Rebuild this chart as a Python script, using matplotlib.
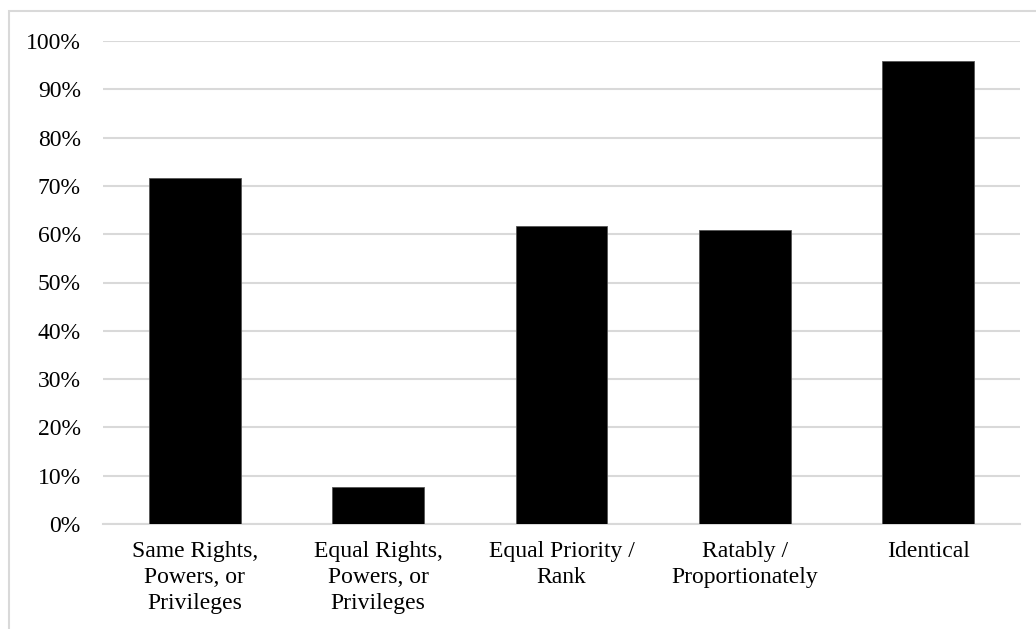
import matplotlib
matplotlib.use("Agg")
import matplotlib.pyplot as plt
from matplotlib.patches import Rectangle
from matplotlib.ticker import PercentFormatter

categories = ["Same Rights,\nPowers, or\nPrivileges",
              "Equal Rights,\nPowers, or\nPrivileges",
              "Equal Priority /\nRank",
              "Ratably /\nProportionately",
              "Identical"]
shares = [0.717, 0.076, 0.617, 0.608, 0.958]
yticks = [i / 10 for i in range(11)]

plt.rcParams['font.family'] = ['Liberation Serif', 'DejaVu Serif']

fig = plt.figure(figsize=(10.36, 6.29), dpi=100)
ax = fig.add_axes([103 / 1036, 105 / 629, 917 / 1036, 483 / 629])

x = range(len(categories))
ax.bar(x, shares, width=0.5, color='black', edgecolor='#555555',
       linewidth=0.6, zorder=3)

ax.set_xlim(-0.5, len(categories) - 0.5)
ax.set_ylim(0, 1.0)
ax.set_yticks(yticks)
ax.yaxis.set_major_formatter(PercentFormatter(1.0, decimals=0))
ax.set_xticks(list(x))
ax.set_xticklabels(categories, fontsize=17, linespacing=1.32)
ax.tick_params(axis='y', labelsize=17, length=0, pad=16)
ax.tick_params(axis='x', length=0, pad=12)

ax.grid(axis='y', color='#d9d9d9', linewidth=1.5, zorder=0)
for side in ['top', 'right', 'left']:
    ax.spines[side].set_visible(False)
ax.spines['bottom'].set_color('#d9d9d9')
ax.spines['bottom'].set_linewidth(1.5)

# chart frame, only the top and left edges show in the crop
fig.patches.append(Rectangle((8.5 / 1036, -0.1), 1.2, (629 - 11) / 629 + 0.1,
                             transform=fig.transFigure, fill=False,
                             edgecolor='#d9d9d9', linewidth=1.5))

fig.savefig("out.png", dpi=100)
